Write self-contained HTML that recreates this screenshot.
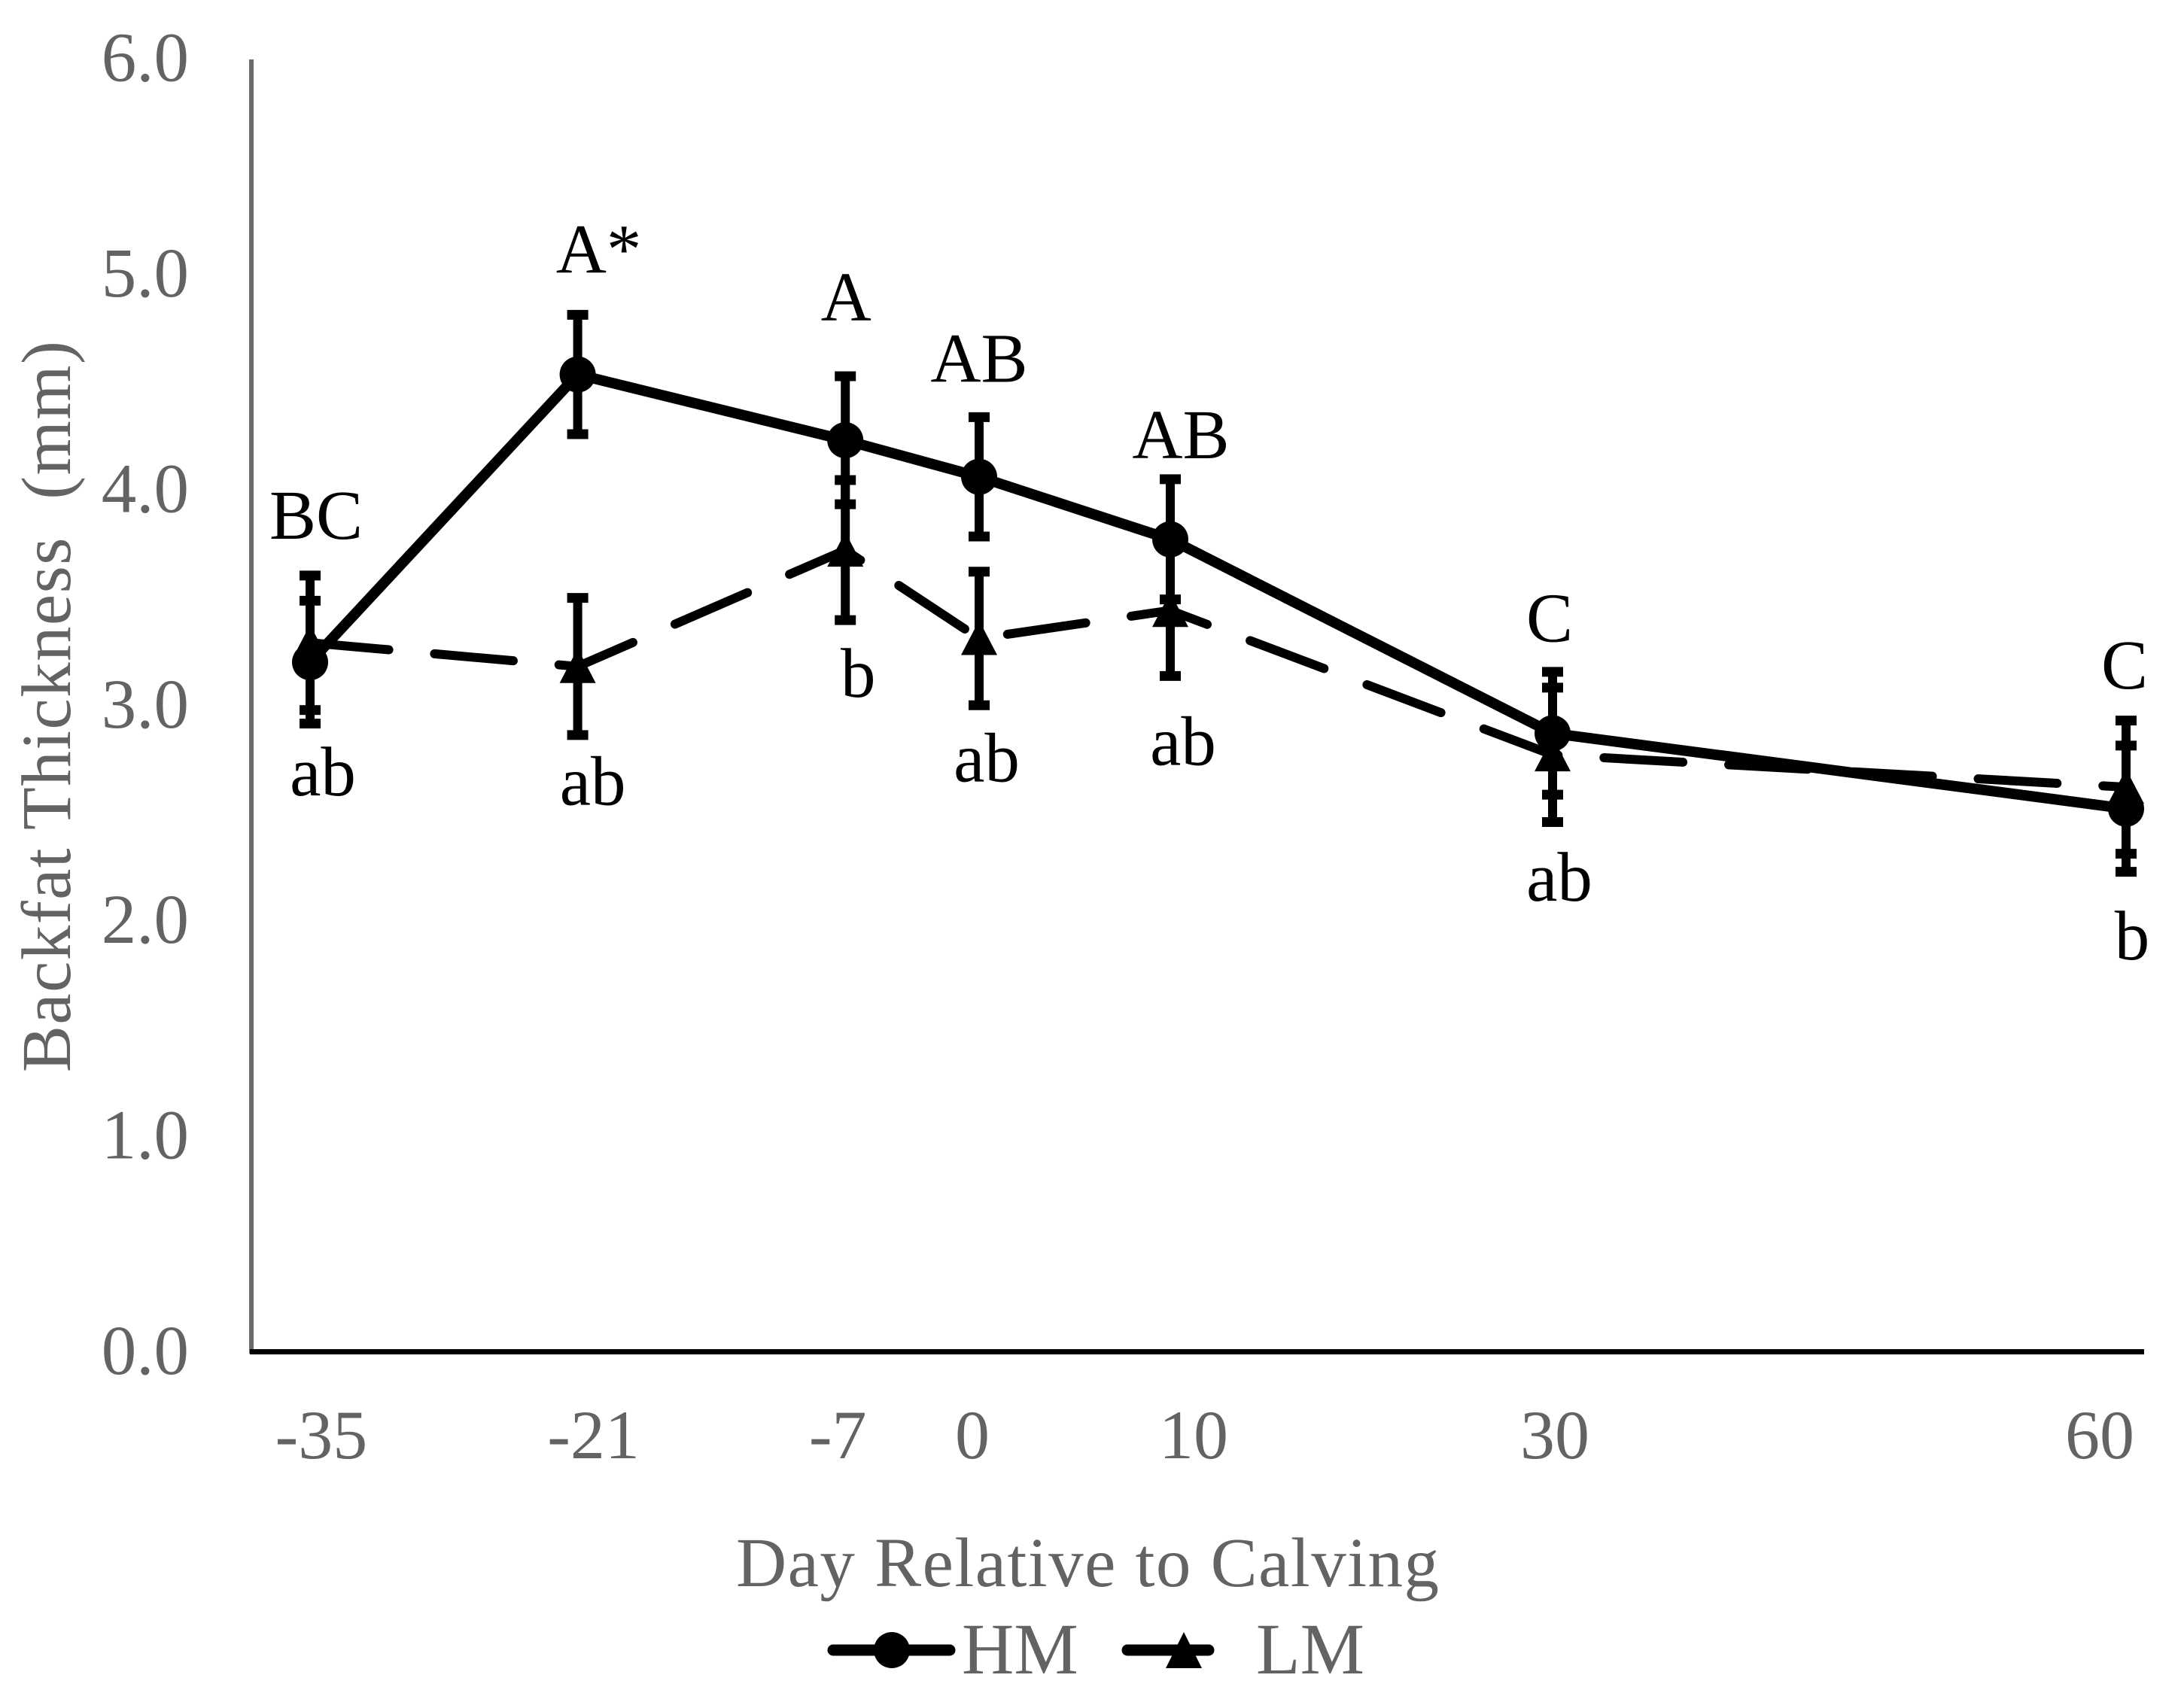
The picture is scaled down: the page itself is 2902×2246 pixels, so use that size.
<!DOCTYPE html>
<html lang="en">
<head>
<meta charset="utf-8">
<title>Backfat Thickness by Day Relative to Calving</title>
<style>
html,body{margin:0;padding:0;background:#fff;width:2902px;height:2246px;overflow:hidden}
svg{display:block;font-family:"Liberation Serif",serif}
</style>
</head>
<body>
<svg id="chart" xmlns="http://www.w3.org/2000/svg" width="2902" height="2246" viewBox="0 0 2902 2246">
  <rect x="0" y="0" width="2902" height="2246" fill="#ffffff"/>
  <line x1="334" y1="79" x2="334" y2="1799" stroke="#6a6a6a" stroke-width="6"/>
  <line x1="332" y1="1796.5" x2="2849" y2="1796.5" stroke="#000" stroke-width="7"/>
  <g id="y-ticks" font-size="93" fill="#636363" text-anchor="end"></g>
  <g id="x-ticks" font-size="92" fill="#636363" text-anchor="middle"></g>
  <text transform="translate(93 1425) rotate(-90)" font-size="93" fill="#636363" textLength="972" lengthAdjust="spacing" xml:space="preserve">Backfat Thickness  (mm)</text>
  <text x="978" y="2108" font-size="93" fill="#636363" textLength="934" lengthAdjust="spacing">Day Relative to Calving</text>
  <g id="plot"></g>
  <g id="letters" font-size="93" fill="#000" text-anchor="middle"></g>
  <g>
    <g>
      <line x1="1107" y1="2193" x2="1262" y2="2193" stroke="#000" stroke-width="15" stroke-linecap="round"/>
      <ellipse cx="1185" cy="2193" rx="24" ry="24" fill="#000"/>
      <text x="1278" y="2224" font-size="96" fill="#636363">HM</text>
    </g>
    <g>
      <line x1="1498" y1="2193" x2="1606" y2="2193" stroke="#000" stroke-width="15" stroke-linecap="round"/>
      <polygon points="1573,2169 1597,2217 1549,2217" fill="#000"/>
      <text x="1669" y="2224" font-size="96" fill="#636363">LM</text>
    </g>
  </g>
</svg>
<script>
const days = [-35, -21, -7, 0, 10, 30, 60];
const hmValues = [3.20, 4.535, 4.23, 4.06, 3.77, 2.87, 2.52];
const hmErrors = [0.285, 0.277, 0.297, 0.277, 0.279, 0.285, 0.293];
const lmValues = [3.29, 3.18, 3.72, 3.31, 3.44, 2.77, 2.62];
const lmErrors = [0.312, 0.318, 0.325, 0.31, 0.304, 0.312, 0.309];
const yTickValues = [0, 1, 2, 3, 4, 5, 6];
const xTickLabels = ['-35', '-21', '-7', '0', '10', '30', '60'];
const hmLetters = ['BC', 'A*', 'A', 'AB', 'AB', 'C', 'C'];
const lmLetters = ['ab', 'ab', 'b', 'ab', 'ab', 'ab', 'b'];

const NS = 'http://www.w3.org/2000/svg';
const xScale = d => 1301 + 25.4 * d;
const yScale = v => 1796.5 - 286.4 * v;
const plot = document.getElementById('plot');
const lettersGroup = document.getElementById('letters');
const yTicksGroup = document.getElementById('y-ticks');
const xTicksGroup = document.getElementById('x-ticks');

function make(tag, attrs, parent) {
  const el = document.createElementNS(NS, tag);
  for (const k in attrs) el.setAttribute(k, attrs[k]);
  parent.appendChild(el);
  return el;
}

yTickValues.forEach(v => {
  const t = make('text', {x: 251, y: yScale(v) + 29.5}, yTicksGroup);
  t.textContent = v.toFixed(1);
  
  
});

const xLabelShift = [15, 21, -10, -9, 31, 3, -35];
days.forEach((d, i) => {
  const t = make('text', {x: xScale(d) + xLabelShift[i], y: 1938}, xTicksGroup);
  t.textContent = xTickLabels[i];
  
  
});

function drawErrors(values, errors, seriesName) {
  days.forEach((d, i) => {
    const x = xScale(d);
    const top = yScale(values[i] + errors[i]);
    const bottom = yScale(values[i] - errors[i]);
    const stem = make('line', {x1: x, y1: top, x2: x, y2: bottom, stroke: '#000', 'stroke-width': 12}, plot);
    
    stem.setAttribute('data-series', seriesName);
    
    [top, bottom].forEach(y => {
      const cap = make('line', {x1: x - 14, y1: y, x2: x + 14, y2: y, stroke: '#000', 'stroke-width': 13}, plot);
      
      cap.setAttribute('data-series', seriesName);
      
    });
  });
}

function pathFor(values) {
  return values.map((v, i) => xScale(days[i]) + ',' + yScale(v)).join(' ');
}

drawErrors(hmValues, hmErrors, 'HM');
drawErrors(lmValues, lmErrors, 'LM');

const lmLine = make('polyline', {points: pathFor(lmValues), fill: 'none', stroke: '#000', 'stroke-width': 12, 'stroke-linecap': 'round', 'stroke-linejoin': 'round', 'stroke-dasharray': '105 61'}, plot);



const hmLine = make('polyline', {points: pathFor(hmValues), fill: 'none', stroke: '#000', 'stroke-width': 14, 'stroke-linejoin': 'round'}, plot);



days.forEach((d, i) => {
  const x = xScale(d);
  const y = yScale(lmValues[i]);
  const tri = make('polygon', {points: [x, y - 24, x + 24, y + 22, x - 24, y + 22].join(' '), fill: '#000'}, plot);
  
  
});

days.forEach((d, i) => {
  const dot = make('circle', {cx: xScale(d), cy: yScale(hmValues[i]), r: 24, fill: '#000'}, plot);
  
  
});

const hmLetterOffsetX = [8, 28, 1, 0, 14, -4, -2];
const hmLetterOffsetY = [-164, -135, -159, -126, -108, -122, -160];
const lmLetterOffsetX = [17, 20, 17, 10, 17, 9, 8];
const lmLetterOffsetY = [203, 184, 195, 190, 205, 194, 229];
days.forEach((d, i) => {
  const a = make('text', {x: xScale(d) + hmLetterOffsetX[i], y: yScale(hmValues[i]) + hmLetterOffsetY[i]}, lettersGroup);
  a.textContent = hmLetters[i];
  
  
  const b = make('text', {x: xScale(d) + lmLetterOffsetX[i], y: yScale(lmValues[i]) + lmLetterOffsetY[i]}, lettersGroup);
  b.textContent = lmLetters[i];
  
  
});
</script>
</body>
</html>
